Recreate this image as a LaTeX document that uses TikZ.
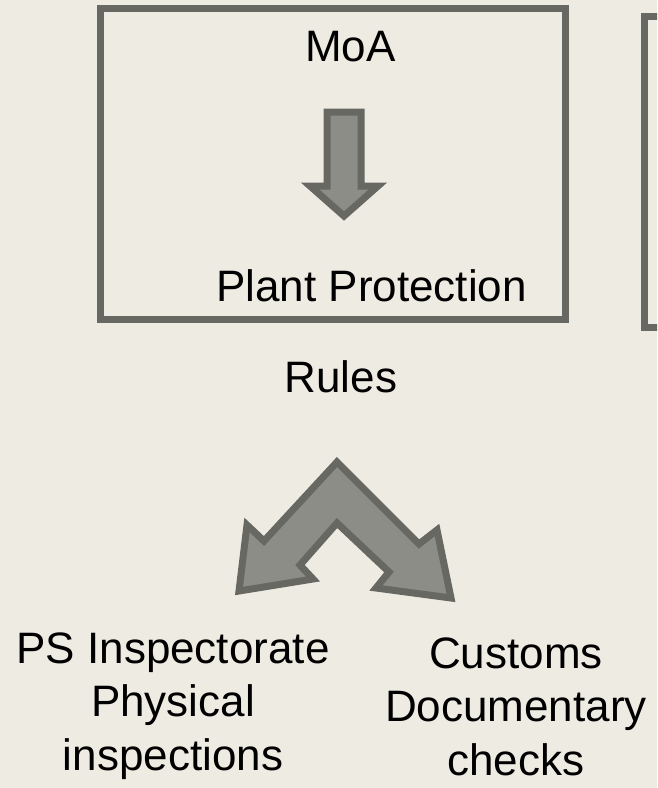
\documentclass[tikz,border=0pt]{standalone}
\usepackage{fontspec}
\setmainfont{Liberation Sans}
\usepackage{xcolor}
\usepackage{tikz}
\usetikzlibrary{positioning}
\definecolor{paper}{RGB}{238,235,227}
\definecolor{edgegrey}{RGB}{102,104,97}
\definecolor{arrowgrey}{RGB}{140,141,135}

\begin{document}
\begin{tikzpicture}[x=1pt,y=-1pt,
  lbl/.style={font=\fontsize{44}{53.5}\selectfont,inner sep=0pt,anchor=base,align=center},
  frame/.style={draw=edgegrey,line width=7pt,inner sep=0pt},
  blockarrow/.style={draw=edgegrey,fill=arrowgrey,line width=7pt,line join=miter}]
  \fill[paper] (0,0) rectangle (657,788);
  \useasboundingbox (0,0) rectangle (657,788);
  \clip (0,0) rectangle (657,788);
  % boxes
  \node[frame,minimum width=465pt,minimum height=311pt] (moabox) at (332.5,163.5) {};
  \node[frame,minimum width=100pt,minimum height=311.5pt] (sidebox) at (694.5,171.75) {};
  % texts (base of a multi-line node = its last line)
  \node[lbl] (moa) at (350.5,61) {MoA};
  \node[lbl] (plant) at (371.5,301.7) {Plant Protection};
  \node[lbl] (rules) at (341,392) {Rules};
  \node[lbl] (psinsp) at (173,770) {PS Inspectorate\\Physical\\inspections};
  \node[lbl] (customs) at (516,775) {Customs\\Documentary\\checks};
  % block arrows
  \draw[blockarrow] (327,112) -- (361,112) -- (361,186) -- (378,186) -- (344,216)
    -- (310,186) -- (327,186) -- cycle;
  \draw[blockarrow] (337,462) -- (419,544) -- (437,530) -- (451,598) -- (376,588)
    -- (389,572) -- (337,523) -- (300,565) -- (313,579) -- (239,591) -- (247,525)
    -- (264,541) -- cycle;
\end{tikzpicture}
\end{document}
